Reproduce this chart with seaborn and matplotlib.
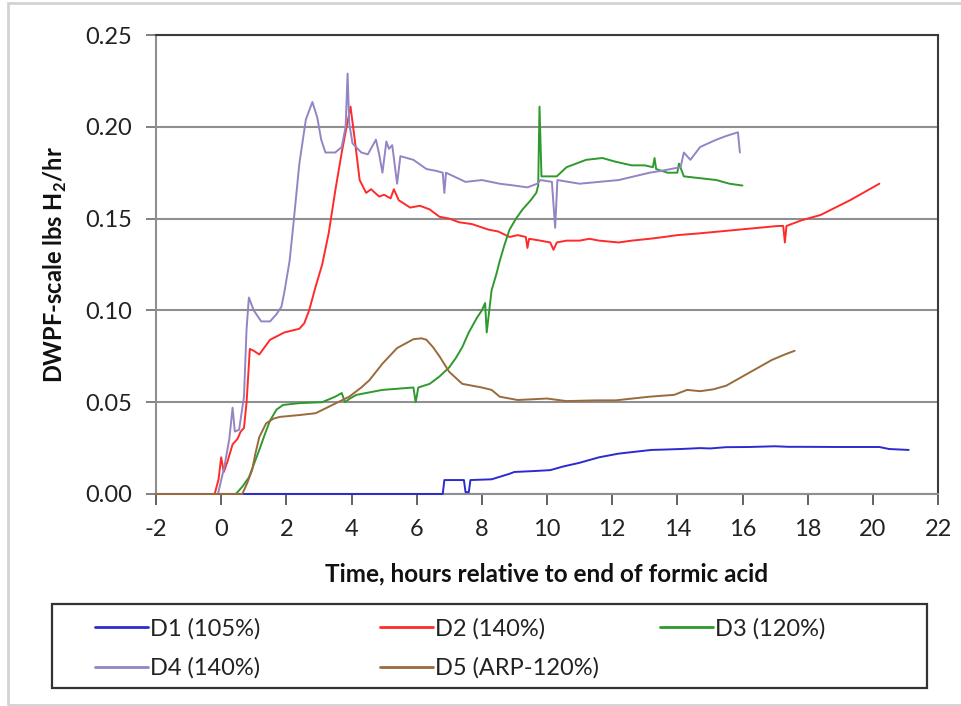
import numpy as np
import pandas as pd
import matplotlib
matplotlib.use("Agg")
import matplotlib.pyplot as plt
from matplotlib.patches import Rectangle
import seaborn as sns

# ---------------- data ----------------
series_names = ["D1 (105%)", "D2 (140%)", "D3 (120%)", "D4 (140%)", "D5 (ARP-120%)"]
series_colors = ["#2b2bd0", "#ff2a2a", "#2e9a2e", "#9484c4", "#9a6a3c"]

d1_t = [-2, 0.7, 6.8, 6.85, 7.45, 7.5, 7.6, 7.65, 8.3, 8.85, 9.0, 9.6, 10.1, 10.5, 11.0, 11.6, 12.2,
        12.7, 13.2, 13.6, 14.1, 14.7, 15.0, 15.5, 16.2, 17.0, 17.4, 17.8, 19.0, 20.2, 20.5, 21.1]
d1_v = [0, 0, 0, 0.0076, 0.0076, 0.001, 0.001, 0.0076, 0.008, 0.011, 0.012, 0.0125, 0.013, 0.015, 0.017, 0.020, 0.022,
        0.023, 0.024, 0.0242, 0.0245, 0.025, 0.0248, 0.0255, 0.0256, 0.026, 0.0257, 0.0257, 0.0256, 0.0256, 0.0245, 0.024]

d2_t = [-2, -0.2, -0.08, 0.0, 0.08, 0.2, 0.35, 0.5, 0.6, 0.7, 0.78, 0.88, 1.0, 1.17, 1.5,
        1.94, 2.4, 2.55, 2.7, 2.9, 3.1, 3.3, 3.5, 3.7, 3.85, 3.97, 4.1, 4.25, 4.45, 4.6, 4.85,
        5.0, 5.2, 5.3, 5.45, 5.8, 6.1, 6.4, 6.7, 7.0, 7.3, 7.7, 8.2, 8.5, 8.85, 9.1, 9.35, 9.4, 9.45,
        9.8, 10.1, 10.2, 10.3, 10.6, 11.0, 11.3, 11.6, 12.2, 12.6, 13.15, 13.6, 14.0, 14.7, 15.3, 15.9,
        16.5, 17.1, 17.25, 17.3, 17.35, 17.8, 18.4, 19.3, 19.9, 20.2]
d2_v = [0, 0, 0.008, 0.02, 0.012, 0.018, 0.027, 0.030, 0.034, 0.036, 0.05, 0.079, 0.078, 0.076, 0.084,
        0.088, 0.090, 0.093, 0.100, 0.113, 0.125, 0.142, 0.165, 0.186, 0.200, 0.211, 0.193, 0.171, 0.164, 0.166, 0.162,
        0.163, 0.161, 0.166, 0.160, 0.156, 0.157, 0.155, 0.151, 0.150, 0.148, 0.147, 0.144, 0.143, 0.140, 0.141, 0.140, 0.134, 0.139,
        0.138, 0.137, 0.133, 0.137, 0.138, 0.138, 0.139, 0.138, 0.137, 0.138, 0.139, 0.140, 0.141, 0.142, 0.143, 0.144,
        0.145, 0.146, 0.146, 0.137, 0.146, 0.149, 0.152, 0.160, 0.166, 0.169]

d3_t = [-2, 0.45, 0.65, 0.85, 1.0, 1.17, 1.35, 1.5, 1.7, 1.9, 2.4, 3.1, 3.5, 3.7, 3.8,
        3.95, 4.15, 4.95, 5.9, 5.97, 6.05, 6.4, 6.7, 7.0, 7.2, 7.4, 7.6, 7.85, 8.0, 8.1,
        8.15, 8.3, 8.45, 8.55, 8.7, 8.85, 9.05, 9.25, 9.5, 9.67, 9.73, 9.77, 9.83, 10.3, 10.6,
        10.9, 11.2, 11.7, 12.1, 12.6, 13.0, 13.25, 13.3, 13.35, 13.7, 14.0, 14.05, 14.2, 14.7, 15.2, 15.6, 16.0]
d3_v = [0, 0, 0.004, 0.009, 0.016, 0.024, 0.033, 0.040, 0.046, 0.0485, 0.0495, 0.050, 0.053, 0.055, 0.050,
        0.052, 0.054, 0.0567, 0.058, 0.050, 0.058, 0.060, 0.064, 0.069, 0.074, 0.080, 0.088, 0.096, 0.100, 0.104,
        0.088, 0.111, 0.120, 0.127, 0.136, 0.144, 0.150, 0.155, 0.160, 0.164, 0.168, 0.211, 0.173, 0.173, 0.178,
        0.180, 0.182, 0.183, 0.181, 0.179, 0.179, 0.178, 0.183, 0.177, 0.175, 0.175, 0.180, 0.173, 0.172, 0.171, 0.169, 0.168]

d4_t = [-2, -0.1, 0.1, 0.25, 0.35, 0.42, 0.55, 0.7, 0.78, 0.85, 1.0, 1.23, 1.5, 1.7, 1.85,
        1.95, 2.1, 2.2, 2.4, 2.6, 2.8, 2.95, 3.07, 3.2, 3.5, 3.7, 3.82, 3.88, 3.93, 4.03,
        4.3, 4.5, 4.75, 4.85, 4.95, 5.07, 5.15, 5.25, 5.4, 5.5, 5.9, 6.3, 6.6, 6.8, 6.85,
        6.9, 7.5, 8.0, 8.55, 9.0, 9.4, 9.7, 9.8, 10.15, 10.25, 10.32, 11.0, 11.6, 12.2, 13.15,
        13.5, 14.1, 14.2, 14.4, 14.7, 15.2, 15.5, 15.86, 15.92]
d4_v = [0, 0, 0.015, 0.030, 0.047, 0.034, 0.035, 0.053, 0.090, 0.107, 0.100, 0.094, 0.094, 0.098, 0.102,
        0.111, 0.127, 0.144, 0.180, 0.204, 0.2135, 0.205, 0.193, 0.186, 0.186, 0.189, 0.200, 0.229, 0.202, 0.191,
        0.186, 0.185, 0.193, 0.185, 0.175, 0.192, 0.188, 0.190, 0.169, 0.184, 0.182, 0.177, 0.176, 0.175, 0.164,
        0.175, 0.170, 0.171, 0.169, 0.168, 0.167, 0.169, 0.171, 0.170, 0.145, 0.171, 0.169, 0.170, 0.171, 0.175,
        0.176, 0.178, 0.186, 0.182, 0.189, 0.193, 0.195, 0.197, 0.186]

d5_t = [-2, 0.65, 0.8, 0.95, 1.05, 1.17, 1.38, 1.6, 1.8, 2.4, 2.9, 3.3, 3.93, 4.3, 4.55,
        4.95, 5.4, 5.9, 6.15, 6.3, 6.5, 6.7, 7.0, 7.4, 8.0, 8.3, 8.55, 9.1, 10.0, 10.6,
        11.5, 12.1, 13.15, 13.9, 14.3, 14.7, 15.1, 15.5, 16.2, 16.9, 17.3, 17.6]
d5_v = [0, 0, 0.006, 0.013, 0.022, 0.031, 0.0385, 0.041, 0.042, 0.043, 0.044, 0.0475, 0.053, 0.058, 0.062,
        0.071, 0.0795, 0.0843, 0.0848, 0.084, 0.080, 0.075, 0.0665, 0.060, 0.058, 0.0567, 0.053, 0.0512, 0.052, 0.0506,
        0.051, 0.051, 0.053, 0.054, 0.0567, 0.056, 0.057, 0.059, 0.066, 0.073, 0.076, 0.078]

x_ticks = [-2, 0, 2, 4, 6, 8, 10, 12, 14, 16, 18, 20, 22]
y_ticks = [0.00, 0.05, 0.10, 0.15, 0.20, 0.25]

x_label = "Time, hours relative to end of formic acid"
y_label = r"DWPF-scale lbs H$_{\mathbf{2}}$/hr"

# ---------------- build long frame ----------------
frames = []
for name, t, v in zip(series_names, [d1_t, d2_t, d3_t, d4_t, d5_t],
                      [d1_v, d2_v, d3_v, d4_v, d5_v]):
    frames.append(pd.DataFrame({"time": t, "rate": v, "series": name}))
df = pd.concat(frames, ignore_index=True)

# ---------------- style ----------------
sns.set_theme(style="white")
fam = ["Lato", "DejaVu Sans"]
plt.rcParams["font.family"] = fam
plt.rcParams["mathtext.fontset"] = "custom"
plt.rcParams["mathtext.bf"] = "Lato:bold"
plt.rcParams["mathtext.rm"] = "Lato"

fig = plt.figure(figsize=(9.61, 7.06), dpi=100)
ax = fig.add_axes([156 / 961, 1 - 494 / 706, (938 - 156) / 961, (494 - 35) / 706])

palette = dict(zip(series_names, series_colors))
sns.lineplot(data=df, x="time", y="rate", hue="series", palette=palette,
             hue_order=series_names, estimator=None, sort=False,
             linewidth=1.4, ax=ax, legend=False)
for ln in ax.lines:
    ln.set_clip_on(False)
    ln.set_zorder(3)

ax.set_xlim(-2, 22)
ax.set_ylim(0, 0.25)
ax.set_xticks(x_ticks)
ax.set_xticklabels([str(x) for x in x_ticks])
ax.set_yticks(y_ticks)
ax.set_yticklabels([f"{y:.2f}" for y in y_ticks])

ax.yaxis.grid(True, color="#8f8f8f", linewidth=1.5)
ax.xaxis.grid(False)
ax.set_axisbelow(True)

for side in ["left", "bottom"]:
    ax.spines[side].set_color("#8f8f8f")
    ax.spines[side].set_linewidth(1.5)
for side in ["top", "right"]:
    ax.spines[side].set_color("#3a3a3a")
    ax.spines[side].set_linewidth(1.5)

ax.tick_params(axis="x", which="major", direction="out", length=8, width=1.3,
               color="#555555", labelsize=17, labelcolor="#222222", pad=10, bottom=True)
ax.tick_params(axis="y", which="major", direction="out", length=7, width=1.3,
               color="#777777", labelsize=17, labelcolor="#222222", pad=10, left=True)

ax.set_xlabel(x_label, fontsize=17.5, fontweight="bold", color="#111111", labelpad=16)
ax.set_ylabel(y_label, fontsize=17, fontweight="bold", color="#111111", labelpad=12)

# legend: frame + three columns (row-major order like the reference)
fig.patches.append(Rectangle((52 / 961, 1 - 688 / 706), 875 / 961, 84 / 706,
                             transform=fig.transFigure, fill=False,
                             edgecolor="#333333", linewidth=1.6))
col_x = [95, 380, 660]
columns = [[0, 3], [1, 4], [2]]
for cx, idxs in zip(col_x, columns):
    hs = [plt.Line2D([], [], color=series_colors[i], linewidth=2) for i in idxs]
    lb = [series_names[i] for i in idxs]
    lg = fig.legend(hs, lb, loc="upper left", bbox_to_anchor=(cx / 961, 1 - 618 / 706),
                    frameon=False, fontsize=17, handlelength=2.25, handletextpad=0.1,
                    borderpad=0.0, borderaxespad=0.0, labelspacing=0.76)
    for txt in lg.get_texts():
        txt.set_color("#222222")

# outer border of chart area
fig.patches.append(Rectangle((8 / 961, 1 / 706), 960 / 961, 702 / 706, transform=fig.transFigure,
                             fill=False, edgecolor="#d3d3d3", linewidth=2))

fig.savefig("out.png", dpi=100)
